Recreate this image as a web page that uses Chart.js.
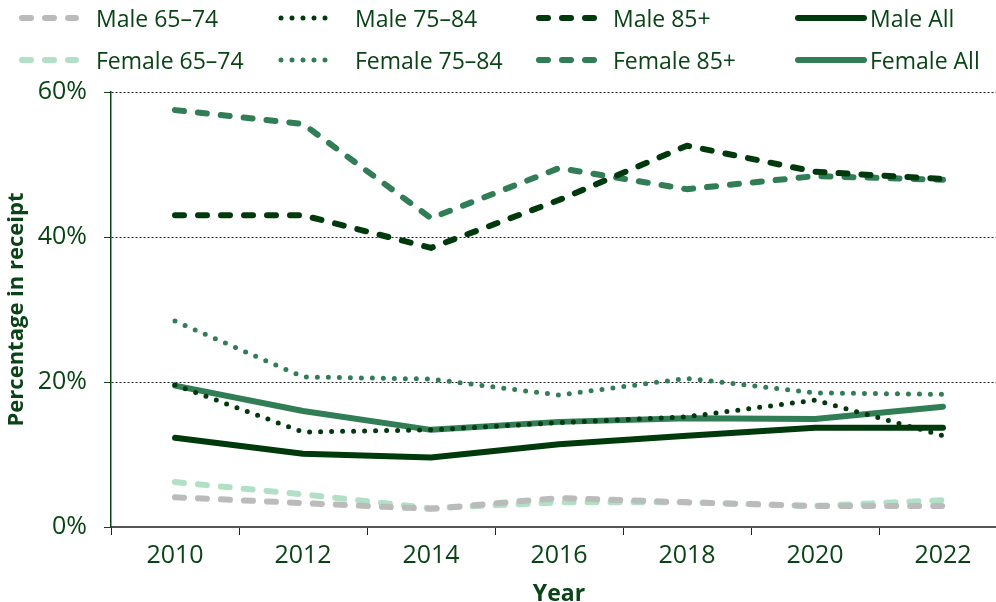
<!DOCTYPE html>
<html>
<head>
<meta charset="utf-8">
<script src="https://cdn.jsdelivr.net/npm/chart.js@4"></script>
<style>
  html, body { margin: 0; padding: 0; background: #fff; overflow: hidden; }
  #wrap { position: absolute; left: 0; top: 0; width: 1010px; height: 608px; }
  #legend { position: absolute; left: 0; top: 0; width: 996px; height: 84px; font-family: "Open Sans", sans-serif; font-size: 23px; color: #0a4416; }
  .item { position: absolute; height: 30px; }
  .item svg { position: absolute; top: 0; }
  .item span { position: absolute; top: 0; line-height: 30px; white-space: nowrap; }
</style>
</head>
<body>
<div id="wrap">
  <canvas id="chart" width="1010" height="608"></canvas>
  <div id="legend"></div>
</div>
<script>
const years = ["2010", "2012", "2014", "2016", "2018", "2020", "2022"];
const yTicks = [0, 20, 40, 60];

const male6574 = [4.1, 3.3, 2.5, 4.0, 3.4, 2.9, 2.9];
const male7584 = [19.6, 13.1, 13.4, 14.4, 15.2, 17.5, 12.6];
const male85 = [43.0, 43.0, 38.5, 45.1, 52.6, 49.0, 48.0];
const maleAll = [12.3, 10.1, 9.6, 11.4, 12.6, 13.7, 13.7];
const female6574 = [6.2, 4.5, 2.6, 3.4, 3.4, 2.9, 3.7];
const female7584 = [28.4, 20.7, 20.4, 18.2, 20.5, 18.5, 18.3];
const female85 = [57.5, 55.6, 42.6, 49.5, 46.6, 48.4, 47.9];
const femaleAll = [19.5, 16.0, 13.4, 14.5, 15.0, 14.9, 16.6];

const textColor = "#0a4416";
const darkGreen = "#003a0c";
const midGreen = "#317d56";
const grey = "#bbbbbb";
const mint = "#b2e0c7";

const dashed = [9, 14];
const dotted = [0, 11];

const series = [
    { label: "Male 65–74", data: male6574, color: grey, dash: dashed, width: 6 },
    { label: "Male 75–84", data: male7584, color: darkGreen, dash: dotted, width: 5 },
    { label: "Male 85+", data: male85, color: darkGreen, dash: dashed, width: 6 },
    { label: "Male All", data: maleAll, color: darkGreen, dash: [], width: 6 },
    { label: "Female 65–74", data: female6574, color: mint, dash: dashed, width: 6 },
    { label: "Female 75–84", data: female7584, color: midGreen, dash: dotted, width: 5 },
    { label: "Female 85+", data: female85, color: midGreen, dash: dashed, width: 6 },
    { label: "Female All", data: femaleAll, color: midGreen, dash: [], width: 6 }
];

// legend: 4 columns, 2 rows
const legendCols = [
    { x1: 22, x2: 76, tx: 96 },
    { x1: 281, x2: 336, tx: 355 },
    { x1: 539, x2: 594, tx: 613 },
    { x1: 798, x2: 864, tx: 870 }
];
const legendRows = [18, 60];

function buildLegend() {
    const box = document.getElementById("legend");
    series.forEach((s, i) => {
        const col = legendCols[i % 4];
        const rowY = legendRows[Math.floor(i / 4)];
        const item = document.createElement("div");
        item.className = "item";
        item.style.left = "0px";
        item.style.top = (rowY - 15) + "px";
        const w = col.x2 + 10;
        let svg = '<svg width="' + w + '" height="30"><line x1="' + col.x1 + '" y1="15" x2="' + col.x2 +
            '" y2="15" stroke="' + s.color + '" stroke-width="' + s.width + '" stroke-linecap="round"';
        if (s.dash.length) svg += ' stroke-dasharray="' + s.dash.join(" ") + '"';
        svg += '/></svg>';
        item.innerHTML = svg + '<span style="left:' + col.tx + 'px">' + s.label + '</span>';
        box.appendChild(item);
    });
}

function startChart() {
    const ctx = document.getElementById("chart");
    Chart.defaults.font.family = '"Open Sans", sans-serif';
    Chart.defaults.color = textColor;

    new Chart(ctx, {
        type: "line",
        data: {
            labels: years,
            datasets: series.map(s => ({
                label: s.label,
                data: s.data,
                borderColor: s.color,
                backgroundColor: s.color,
                borderWidth: s.width,
                borderDash: s.dash,
                borderCapStyle: "round",
                borderJoinStyle: "round",
                pointRadius: 0,
                tension: 0,
                fill: false
            }))
        },
        options: {
            responsive: false,
            animation: false,
            devicePixelRatio: 1,
            layout: { padding: { top: 92, right: 3, left: 2, bottom: 0 } },
            plugins: {
                legend: { display: false },
                tooltip: { enabled: false }
            },
            scales: {
                x: {
                    offset: true,
                    grid: {
                        offset: true,
                        drawOnChartArea: false,
                        tickLength: 8,
                        tickColor: "#222",
                        lineWidth: 1
                    },
                    border: { color: "#555", width: 2 },
                    ticks: { font: { size: 25 }, color: textColor, padding: 6, maxRotation: 0 },
                    title: {
                        display: true,
                        text: "Year",
                        font: { size: 23, weight: "bold" },
                        color: textColor,
                        padding: { top: 0, bottom: 0 }
                    },
                    afterFit: scale => { scale.height = 81; }
                },
                y: {
                    min: 0,
                    max: 60,
                    afterBuildTicks: scale => { scale.ticks = yTicks.map(v => ({ value: v })); },
                    grid: {
                        color: c => (c.tick && c.tick.value === 0) ? "rgba(0,0,0,0)" : "#222",
                        lineWidth: 1,
                        tickLength: 7,
                        tickColor: textColor,
                        tickBorderDash: []
                    },
                    border: { color: textColor, width: 1.5, dash: [2, 2] },
                    ticks: {
                        font: { size: 25 },
                        color: textColor,
                        padding: 17,
                        callback: v => v + "%"
                    },
                    title: {
                        display: true,
                        text: "Percentage in receipt",
                        font: { size: 22, weight: "bold" },
                        color: textColor,
                        padding: { top: 2, bottom: 4 }
                    },
                    afterFit: scale => { scale.width = 109; }
                }
            }
        }
    });
}

document.addEventListener("DOMContentLoaded", () => {
    buildLegend();
    startChart();
});
</script>
</body>
</html>
